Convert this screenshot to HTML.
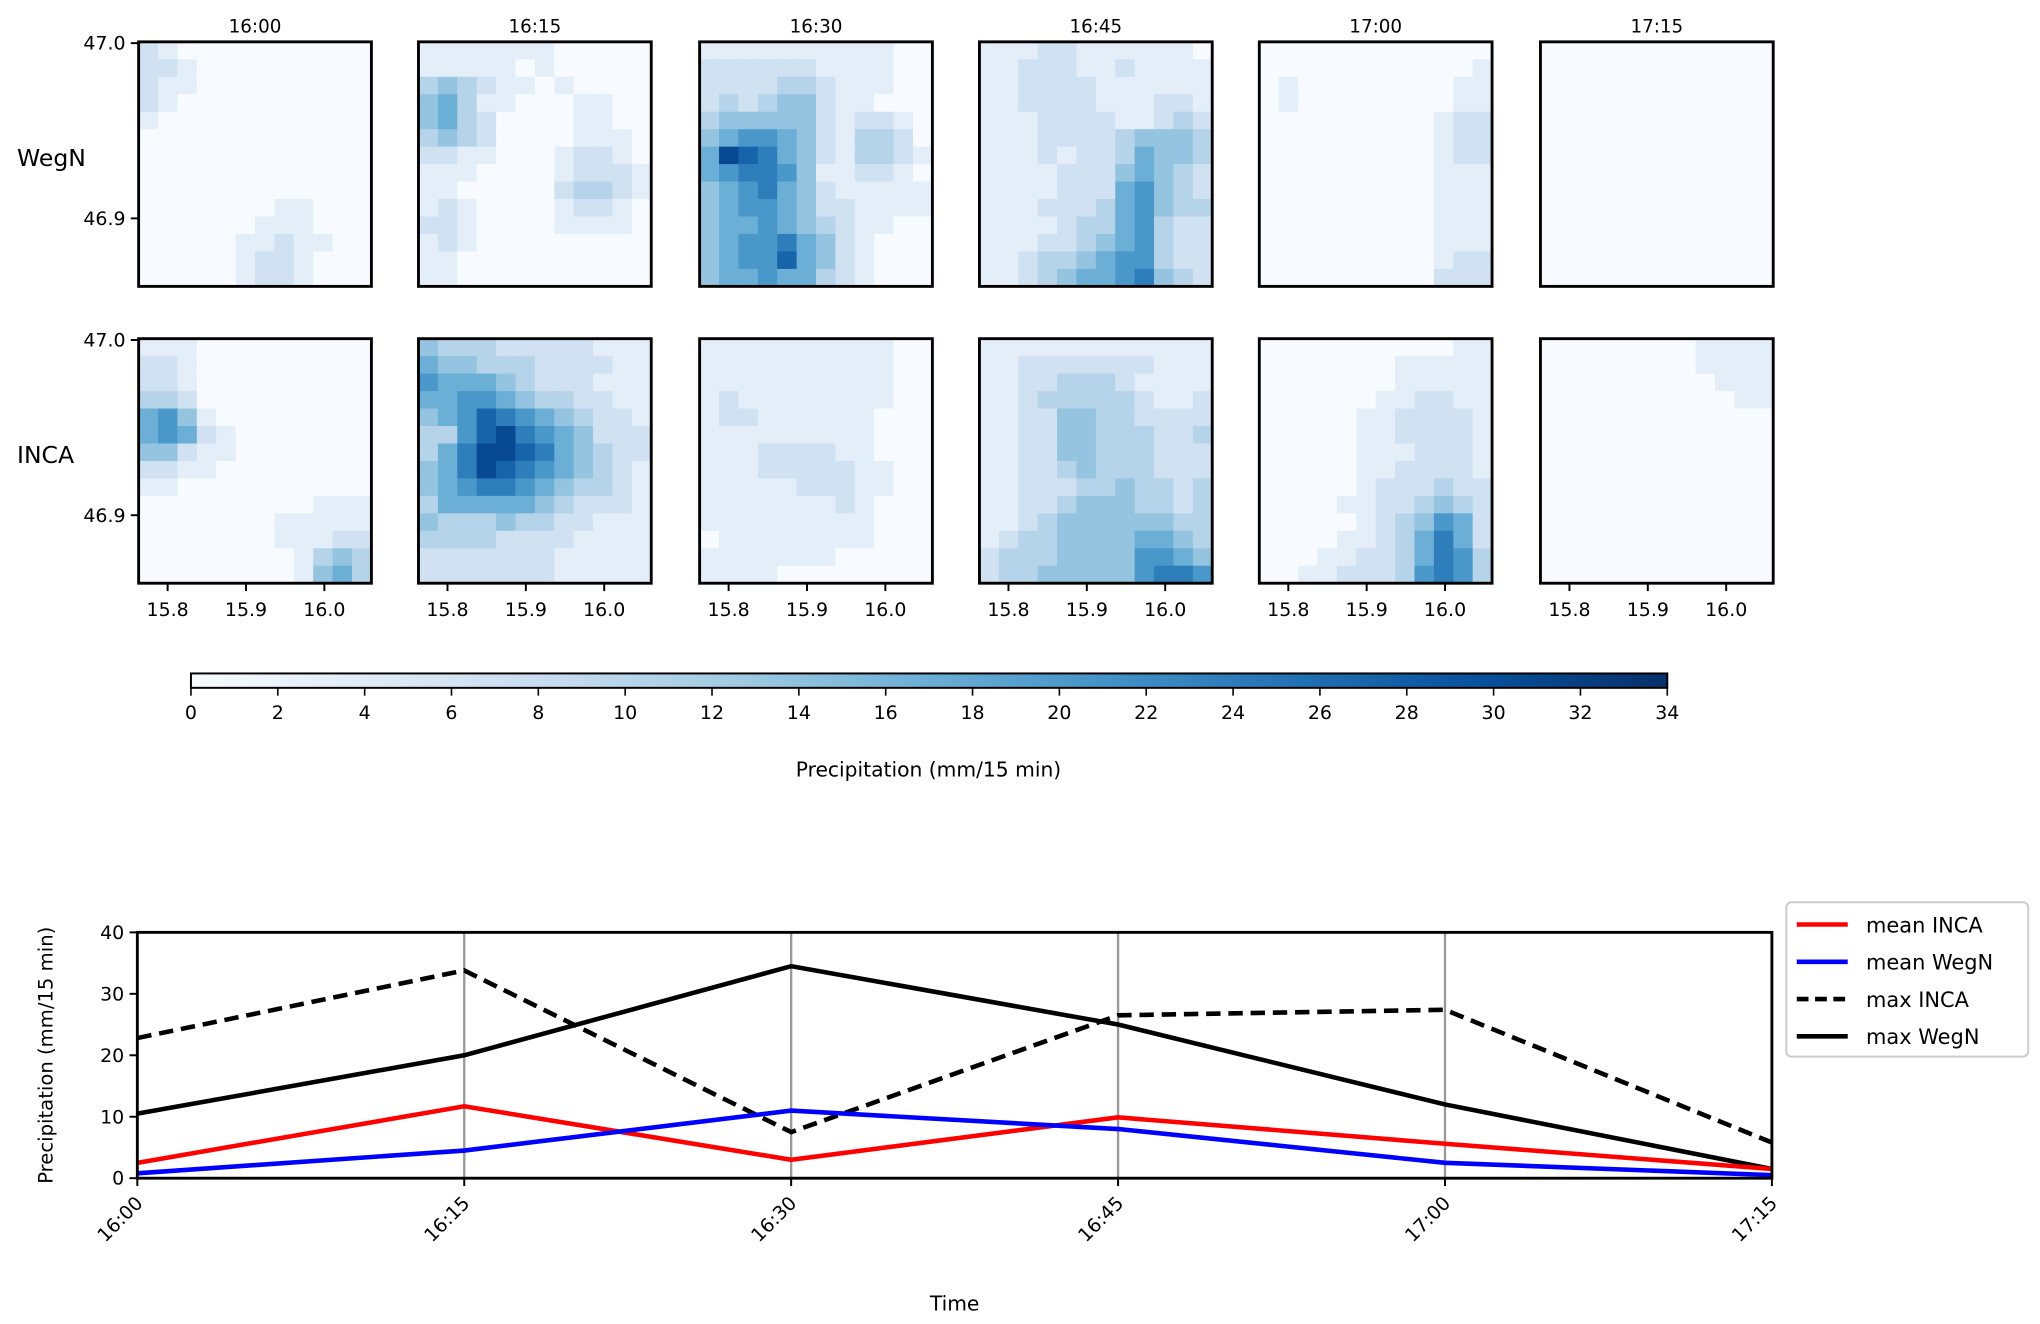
<!DOCTYPE html>
<html><head><meta charset="utf-8"><style>
html,body{margin:0;padding:0;background:#fff}
svg{display:block;font-family:"DejaVu Sans","Liberation Sans",sans-serif}
</style></head><body>
<svg id="s" width="2040" height="1324" viewBox="0 0 1560 1012.5" xmlns="http://www.w3.org/2000/svg">
<defs><linearGradient id="cbg" x1="0" x2="1" y1="0" y2="0">
<stop offset="0" stop-color="#f7fbff"/><stop offset="0.125" stop-color="#deebf7"/><stop offset="0.25" stop-color="#c6dbef"/><stop offset="0.375" stop-color="#9ecae1"/><stop offset="0.5" stop-color="#6baed6"/><stop offset="0.625" stop-color="#4292c6"/><stop offset="0.75" stop-color="#2171b5"/><stop offset="0.875" stop-color="#08519c"/><stop offset="1" stop-color="#08306b"/>
</linearGradient></defs>
<g id="maps"></g>
<g id="cbar"></g>
<g id="chart"></g>
</svg>
<script>
const NS="http://www.w3.org/2000/svg";
const times=["16:00","16:15","16:30","16:45","17:00","17:15"];
const rowNames=["WegN","INCA"];
const lonTicks=[15.8,15.9,16.0];
const latTicks=[47.0,46.9];
const cbTicks=[0,2,4,6,8,10,12,14,16,18,20,22,24,26,28,30,32,34];
const meanINCA=[2.5,11.7,3.0,9.9,5.6,1.5];
const meanWegN=[0.8,4.5,11.0,8.0,2.5,0.5];
const maxINCA=[22.8,33.8,7.5,26.5,27.4,5.8];
const maxWegN=[10.5,20.0,34.5,25.0,12.0,1.5];
const yTicks=[0,10,20,30,40];
const gridsWegN=[
["210000000000","221000000000","211000000000","210000000000","100000000000","000000000000","000000000000","000000000000","000000000000","000000011000","000000111000","000001121100","000001221000","000001221000"],
["111111100000","111110100000","343211010000","453110001100","453200001100","343200001110","221100012210","111000012221","110000023321","121000012210","221000011110","121000000000","110000000000","110000000000"],
["111111111100","222222111100","222233211100","232344211000","344444212210","456654213320","598754213321","567764112210","456754211111","456654221111","455654321100","456675421000","456685421000","455655321000"],
["111221111110","112221121111","112222111111","112222111221","111222211232","111222234443","111212235443","111122245432","111122256432","111222356433","111123356322","111223456322","112334566322","112345567432"],
["000000000000","000000000001","010000000011","010000000011","000000000122","000000000122","000000000122","000000000111","000000000111","000000000111","000000000111","000000000111","000000000122","000000000222"],
["000000000000","000000000000","000000000000","000000000000","000000000000","000000000000","000000000000","000000000000","000000000000","000000000000","000000000000","000000000000","000000000000","000000000000"]];
const gridsINCA=[
["111000000000","221000000000","221000000000","332000000000","564100000000","565210000000","442110000000","221100000000","110000000000","000000000111","000000011111","000000011122","000000001343","000000001453"],
["433322222111","544333222211","655543222111","556654332211","456876543221","336897654222","357998754322","457987654321","456776543321","355555432221","433343322111","333322221111","222222211111","222222211111"],
["111111111100","111111111100","111111111100","121111111100","122111111000","111111111000","111222211000","111222221100","111112221100","111111121000","111111111000","011111111000","111111100000","111100000000"],
["111111111111","112222222111","112233321111","112333332112","112244332222","112244333223","112244333222","112234333222","112223343323","112234443323","112344444433","123344445543","233344446654","233444446776"],
["000000000011","000000011111","000000011111","000000112211","000001122221","000001122221","000001112221","000001122221","000001222322","000011223432","000001234652","000011235752","000112235763","001122236763"],
["000000001111","000000001111","000000000111","000000000011","000000000000","000000000000","000000000000","000000000000","000000000000","000000000000","000000000000","000000000000","000000000000","000000000000"]];
const stops=[[247,251,255],[222,235,247],[198,219,239],[158,202,225],[107,174,214],[66,146,198],[33,113,181],[8,81,156],[8,48,107]];
function cmap(t){t=Math.max(0,Math.min(1,t));const p=t*8,i=Math.min(7,Math.floor(p)),f=p-i;const a=stops[i],b=stops[i+1];return "rgb("+a.map((v,k)=>Math.round(v+(b[k]-v)*f)).join(",")+")";}
function mk(tag,attrs,parent,text){const e=document.createElementNS(NS,tag);for(const k in attrs)e.setAttribute(k,attrs[k]);if(text!==undefined)e.textContent=text;parent.appendChild(e);return e;}
const maps=document.getElementById('maps');
const panelX=[106,320,535,749,963,1178],PW=178,rowY=[32,259],PH=187;
const lonX=(px,v)=>px+(v-15.763)/(16.06-15.763)*PW;
const latY=(py,v)=>py+1+(47.0-v)/0.1*134;
[gridsWegN,gridsINCA].forEach((grids,r)=>{
 const lab=mk('text',{x:13,y:rowY[r]+95,'font-size':18},maps,rowNames[r]);
 
 
 grids.forEach((g,c)=>{
  const px=panelX[c],py=rowY[r];
  const pg=mk('g',{},maps);
  
  
  mk('rect',{x:px,y:py,width:PW,height:PH,fill:'#f7fbff'},pg);
  const nr=g.length,nc=g[0].length,cw=PW/nc,ch=PH/nr;
  g.forEach((row,i)=>{for(let j=0;j<nc;j++){const v=parseInt(row[j])*3.4;
    const cell=mk('rect',{x:px+j*cw,y:py+i*ch,width:cw+0.5,height:ch+0.5,fill:cmap(v/34)},pg);
    
    }});
  mk('rect',{x:px,y:py,width:PW,height:PH,fill:'none',stroke:'#000','stroke-width':2.2},pg);
  if(r===0){const t=mk('text',{x:px+PW/2,y:25,'font-size':14,'text-anchor':'middle'},pg,times[c]);
    
    }
  if(c===0){latTicks.forEach(v=>{const y=latY(py,v);mk('line',{x1:px-6,x2:px,y1:y,y2:y,stroke:'#000','stroke-width':1.5},pg);
    const t=mk('text',{x:px-10,y:y+5,'font-size':14.5,'text-anchor':'end'},pg,v.toFixed(1));
    
    });}
  if(r===1){lonTicks.forEach(v=>{const x=lonX(px,v);mk('line',{x1:x,x2:x,y1:py+PH,y2:py+PH+6,stroke:'#000','stroke-width':1.5},pg);
    const t=mk('text',{x:x,y:py+PH+25,'font-size':14.5,'text-anchor':'middle'},pg,v.toFixed(1));
    
    });}
 });
});
const cb=document.getElementById('cbar');


const cbX0=146,cbX1=1275,cbY=515,cbH=11;
mk('rect',{x:cbX0,y:cbY,width:cbX1-cbX0,height:cbH,fill:'url(#cbg)',stroke:'#000','stroke-width':1.5},cb);
cbTicks.forEach(v=>{const x=cbX0+v/34*(cbX1-cbX0);mk('line',{x1:x,x2:x,y1:cbY+cbH,y2:cbY+cbH+6,stroke:'#000','stroke-width':1.2},cb);
 const t=mk('text',{x:x,y:cbY+cbH+24,'font-size':14.5,'text-anchor':'middle'},cb,String(v));
 
 });
const cbl=mk('text',{x:710,y:594,'font-size':15.5,'text-anchor':'middle'},cb,'Precipitation (mm/15 min)');


const ch=document.getElementById('chart');


const X0=105,X1=1355,Y0=901,Y1=713;
const xs=i=>X0+i*(X1-X0)/(times.length-1);
const ys=v=>Y0-v/40*(Y0-Y1);
for(let i=1;i<times.length-1;i++){mk('line',{x1:xs(i),x2:xs(i),y1:Y1,y2:Y0,stroke:'#999','stroke-width':1.8},ch);}
function series(arr,color,dash,name){const p=mk('polyline',{points:arr.map((v,i)=>xs(i)+','+ys(v)).join(' '),fill:'none',stroke:color,'stroke-width':3.5,'stroke-dasharray':dash||'none','stroke-linejoin':'miter'},ch);
 
 }
series(maxINCA,'#000','11,6','line-max-inca');
series(maxWegN,'#000','','line-max-wegn');
series(meanINCA,'#ff0000','','line-mean-inca');
series(meanWegN,'#0000ff','','line-mean-wegn');
mk('rect',{x:X0,y:Y1,width:X1-X0,height:Y0-Y1,fill:'none',stroke:'#000','stroke-width':2.2},ch);
yTicks.forEach(v=>{const y=ys(v);mk('line',{x1:X0-6,x2:X0,y1:y,y2:y,stroke:'#000','stroke-width':1.5},ch);
 const t=mk('text',{x:X0-10,y:y+5,'font-size':14.5,'text-anchor':'end'},ch,String(v));
 
 });
times.forEach((tl,i)=>{const x=xs(i);mk('line',{x1:x,x2:x,y1:Y0,y2:Y0+6,stroke:'#000','stroke-width':1.5},ch);
 const tx=x+5,ty=Y0+20;
 const t=mk('text',{x:tx,y:ty,'font-size':14.5,'text-anchor':'end',transform:'rotate(-45 '+tx+' '+ty+')'},ch,tl);
 
 });
const yl=mk('text',{x:40,y:807,'font-size':15,'text-anchor':'middle',transform:'rotate(-90 40 807)'},ch,'Precipitation (mm/15 min)');


const xl=mk('text',{x:730,y:1002,'font-size':15.5,'text-anchor':'middle'},ch,'Time');


const lg=mk('g',{},ch);


mk('rect',{x:1366,y:690,width:185,height:118,rx:4,fill:'#fff',stroke:'#ccc','stroke-width':1.5},lg);
[['mean INCA','#ff0000',''],['mean WegN','#0000ff',''],['max INCA','#000','9,5'],['max WegN','#000','']].forEach((e,k)=>{
 const y=707+k*28.5;
 const eg=mk('g',{},lg);
 
 
 mk('line',{x1:1374,x2:1413,y1:y,y2:y,stroke:e[1],'stroke-width':3.5,'stroke-dasharray':e[2]||'none'},eg);
 mk('text',{x:1427,y:y+6,'font-size':16},eg,e[0]);
});
</script>
</body></html>
